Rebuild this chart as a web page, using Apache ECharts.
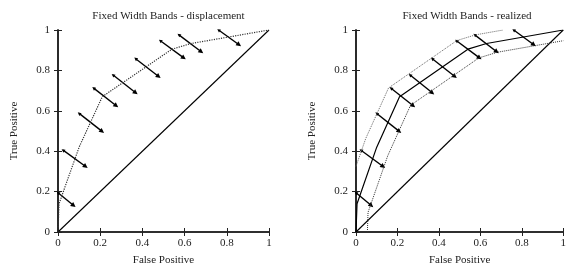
<!DOCTYPE html>
<html>
<head>
<meta charset="utf-8">
<script src="https://cdn.jsdelivr.net/npm/echarts@6/dist/echarts.min.js"></script>
<style>
  html, body { margin: 0; padding: 0; background: #fff; }
  #main { width: 569px; height: 271px; }
</style>
</head>
<body>
<div id="main"></div>
<script>
var myChart = echarts.init(document.getElementById('main'));

// ROC curve (false positive rate, true positive rate)
let rocFpr = [0, 0.005, 0.1, 0.21, 0.54, 0.63, 1];
let rocTpr = [0, 0.14, 0.42, 0.67, 0.905, 0.933, 1];

// realized band edges
let upperFpr = [0, 0.047, 0.157, 0.487, 0.577, 0.71];
let upperTpr = [0.325, 0.463, 0.713, 0.948, 0.976, 1];
let lowerFpr = [0.055, 0.058, 0.153, 0.263, 0.593, 0.683, 1];
let lowerTpr = [0, 0.097, 0.377, 0.627, 0.862, 0.89, 0.947];

// displacement arrows
let arrowFrom = [[0, 0.194], [0.024, 0.405], [0.1, 0.587], [0.169, 0.712], [0.261, 0.777],
                 [0.368, 0.858], [0.485, 0.947], [0.573, 0.976], [0.761, 1.0]];
let arrowTo = [[0.074, 0.131], [0.131, 0.324], [0.209, 0.498], [0.276, 0.625], [0.368, 0.689],
               [0.477, 0.770], [0.596, 0.862], [0.679, 0.892], [0.858, 0.927]];

let diagFpr = [0, 1];
let diagTpr = [0, 1];

let titles = ['Fixed Width Bands - displacement', 'Fixed Width Bands - realized'];

const font = 'Liberation Serif';
function pairs(xs, ys) { return xs.map((x, i) => [x, ys[i]]); }
function fmt(v) { return String(Math.round(v * 10) / 10); }

let grids = [
    { left: 58, top: 30, width: 211, height: 206 },
    { left: 356, top: 30, width: 212, height: 206 }
];

let frameLine = { show: true, lineStyle: { color: '#222', width: 1.6 } };
let tick = { show: true, inside: true, length: 4, lineStyle: { color: '#222', width: 1 } };

let xAxes = [], yAxes = [];
grids.forEach((g, gi) => {
    xAxes.push({
        type: 'value', gridIndex: gi, min: 0, max: 1, interval: 0.2, position: 'bottom',
        name: 'False Positive', nameLocation: 'middle', nameGap: 23,
        nameTextStyle: { fontFamily: font, fontSize: 11, color: '#222' },
        axisLine: frameLine, axisTick: tick, splitLine: { show: false },
        axisLabel: { fontFamily: font, fontSize: 11, color: '#222', margin: 6, formatter: fmt }
    });
    xAxes.push({
        type: 'value', gridIndex: gi, min: 0, max: 1, interval: 0.2, position: 'top',
        axisLine: frameLine, axisTick: tick, splitLine: { show: false }, axisLabel: { show: false }
    });
    yAxes.push({
        type: 'value', gridIndex: gi, min: 0, max: 1, interval: 0.2, position: 'left',
        name: 'True Positive', nameLocation: 'middle', nameGap: 38,
        nameTextStyle: { fontFamily: font, fontSize: 11, color: '#222' },
        axisLine: frameLine, axisTick: tick, splitLine: { show: false },
        axisLabel: { fontFamily: font, fontSize: 11, color: '#222', margin: 8, formatter: fmt }
    });
    yAxes.push({
        type: 'value', gridIndex: gi, min: 0, max: 1, interval: 0.2, position: 'right',
        axisLine: frameLine, axisTick: tick, splitLine: { show: false }, axisLabel: { show: false }
    });
});

function lineSeries(gi, data, color, type, width) {
    return {
        type: 'line', xAxisIndex: gi * 2, yAxisIndex: gi * 2, data: data,
        symbol: 'none', silent: true, animation: false,
        lineStyle: { color: color, type: type, width: width }
    };
}

function arrowSeries(gi) {
    return {
        type: 'lines', coordinateSystem: 'cartesian2d', xAxisIndex: gi * 2, yAxisIndex: gi * 2,
        symbol: ['triangle', 'triangle'], symbolSize: [3.5, 5], silent: true, animation: false,
        lineStyle: { color: '#000', width: 1.4, opacity: 1 },
        data: arrowFrom.map((p, i) => ({ coords: [p, arrowTo[i]] }))
    };
}

let series = [
    lineSeries(0, pairs(diagFpr, diagTpr), '#000', 'solid', 1.1),
    lineSeries(0, pairs(rocFpr, rocTpr), '#333', 'dotted', 1.2),
    arrowSeries(0),
    lineSeries(1, pairs(diagFpr, diagTpr), '#000', 'solid', 1.1),
    lineSeries(1, pairs(rocFpr, rocTpr), '#000', 'solid', 1.2),
    lineSeries(1, pairs(upperFpr, upperTpr), '#666', 'dotted', 1),
    lineSeries(1, pairs(lowerFpr, lowerTpr), '#333', 'dotted', 1),
    arrowSeries(1)
];

let option = {
    backgroundColor: '#fff',
    animation: false,
    title: titles.map((t, i) => ({
        text: t, left: grids[i].left + grids[i].width / 2, top: 6, textAlign: 'center',
        textStyle: { fontFamily: font, fontSize: 11, fontWeight: 'normal', color: '#222' }
    })),
    grid: grids,
    xAxis: xAxes,
    yAxis: yAxes,
    series: series
};

myChart.setOption(option);
</script>
</body>
</html>
